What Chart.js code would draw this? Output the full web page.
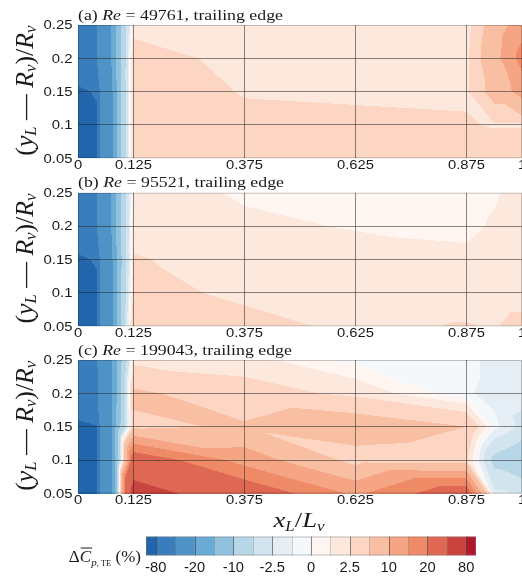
<!DOCTYPE html>
<html><head><meta charset="utf-8">
<script src="https://cdn.jsdelivr.net/npm/chart.js@4.4.0/dist/chart.umd.min.js"></script>
<style>
html,body{margin:0;padding:0;background:#fff;}
#wrap{position:relative;width:522px;height:579px;overflow:hidden;background:#fff;}
canvas{position:absolute;left:0;top:0;}
</style></head><body>
<div id="wrap">
<canvas id="pa" width="522" height="579"></canvas>
<canvas id="pb" width="522" height="579"></canvas>
<canvas id="pc" width="522" height="579"></canvas>
<canvas id="cb" width="522" height="579"></canvas>
</div>
<script>
// ---------- data ----------
const xNodes = [0, 0.0417, 0.05, 0.0833, 0.125, 0.375, 0.625, 0.875, 0.9375, 1];
const yNodes = [0.05, 0.1, 0.15, 0.2, 0.25];
const xTicks = [0, 0.125, 0.375, 0.625, 0.875, 1];
const yTicks = [0.05, 0.1, 0.15, 0.2, 0.25];
const levels = [-80, -40, -20, -15, -10, -5, -2.5, -1, 0, 1, 2.5, 5, 10, 15, 20, 40, 80];
const bandColors = ['#2166ac','#3a7dbd','#4f93c6','#6aabd4','#90c2de','#b7d6e8','#d2e5ef','#e6eef5','#f4f8fb',
                    '#fff6f1','#fde8dd','#fcd6c3','#f9bfa3','#f5a583','#ef8a66','#de6853','#c9443f','#b2182b'];
const colorbarLabels = ['-80','-20','-10','-2.5','0','2.5','10','20','80'];
const reynolds = ['49761', '95521', '199043'];
const panelLetters = ['(a)', '(b)', '(c)'];

// values[xIndex] = [y=0.05, 0.1, 0.15, 0.2, 0.25]
const valuesA = [
  [-90, -90, -84, -60, -60],
  [-85, -85, -78, -42, -42],
  [-35, -35, -35, -32, -30],
  [-17, -17, -17, -16, -16],
  [3.5, 3.5, 3.5, 3.2, 2.0],
  [3.0, 2.9, 2.4, 2.0, 1.8],
  [3.0, 2.8, 2.3, 1.9, 1.8],
  [3.0, 2.7, 2.2, 2.0, 1.5],
  [4.0, 2.3, 6.5, 8.0, 7.0],
  [4.5, 2.3, 12, 17, 13]
];
const valuesB = [
  [-90, -90, -84, -60, -60],
  [-85, -85, -78, -42, -42],
  [-35, -35, -35, -32, -30],
  [-17, -17, -17, -16, -16],
  [4.8, 3.0, 2.6, 2.0, 1.8],
  [3.0, 2.2, 2.0, 1.3, 0.8],
  [2.2, 1.8, 1.6, 0.9, 0.7],
  [2.6, 1.8, 1.2, 0.8, 0.7],
  [2.4, 1.8, 1.5, 1.1, 0.9],
  [3.0, 1.8, 1.5, 1.5, 1.4]
];
const valuesC = [
  [-90, -90, -85, -60, -55],
  [-85, -85, -81, -45, -42],
  [-35, -35, -35, -35, -33],
  [-16, -16, -16, -17, -17],
  [50, 25, 4.5, 5.5, 2.0],
  [25, 13, 5.3, 3.5, 1.5],
  [14, 3.5, 7, 2, -0.3],
  [25, 2.8, 5, -0.8, -0.5],
  [-2, -6, -0.5, -1.5, -1.5],
  [-2.5, -8, -3, -2, -1.5]
];

// ---------- helpers ----------
const SERIF = "'Liberation Serif','Times New Roman',serif";
const SANS = "'Liberation Sans',Arial,sans-serif";
const TXT = '#1a1a1a';

function hexToRgb(h){ return [parseInt(h.substr(1,2),16), parseInt(h.substr(3,2),16), parseInt(h.substr(5,2),16)]; }
const bandRgb = bandColors.map(hexToRgb);

function bandIndex(v){ let k = 0; while (k < levels.length && v >= levels[k]) k++; return k; }

function interp(vals, x, y){
  let i = 0; while (i < xNodes.length - 2 && x > xNodes[i+1]) i++;
  let j = 0; while (j < yNodes.length - 2 && y > yNodes[j+1]) j++;
  let u = (x - xNodes[i]) / (xNodes[i+1] - xNodes[i]);
  let v = (y - yNodes[j]) / (yNodes[j+1] - yNodes[j]);
  u = Math.min(1, Math.max(0, u)); v = Math.min(1, Math.max(0, v));
  const f00 = vals[i][j], f10 = vals[i+1][j], f01 = vals[i][j+1], f11 = vals[i+1][j+1];
  if (u + v <= 1) return f00 + (f10 - f00) * u + (f01 - f00) * v;
  return f11 + (f01 - f11) * (1 - u) + (f10 - f11) * (1 - v);
}

function measureRuns(ctx, runs){
  let total = 0;
  runs.forEach(r => { ctx.font = r.font; r.w = ctx.measureText(r.t).width; total += r.w; });
  return total;
}
function drawRuns(ctx, runs, x, y, sx, align){
  ctx.save();
  const total = measureRuns(ctx, runs);
  const start = align === 'right' ? x - total * sx : align === 'center' ? x - total * sx / 2 : x;
  ctx.translate(start, y); ctx.scale(sx, 1);
  ctx.textBaseline = 'alphabetic'; ctx.textAlign = 'left'; ctx.fillStyle = TXT; ctx.strokeStyle = TXT;
  let cx = 0;
  runs.forEach(r => {
    ctx.font = r.font; ctx.fillText(r.t, cx, r.dy || 0);
    if (r.over) { ctx.lineWidth = 1; ctx.beginPath(); ctx.moveTo(cx + 1, r.over); ctx.lineTo(cx + r.w + 1, r.over); ctx.stroke(); }
    cx += r.w;
  });
  ctx.restore();
  return total;
}
function drawText(ctx, t, x, y, font, sx, align){
  drawRuns(ctx, [{t: t, font: font}], x, y, sx, align);
}

// ---------- panel plugin ----------
function panelPlugin(vals, idx){
  return {
    id: 'contour' + idx,
    beforeDraw(chart){
      const ctx = chart.ctx, ca = chart.chartArea, xs = chart.scales.x, ys = chart.scales.y;
      const L = Math.round(ca.left), T = Math.round(ca.top);
      const W = Math.round(ca.right) - L, H = Math.round(ca.bottom) - T;
      const img = ctx.createImageData(W, H);
      for (let py = 0; py < H; py++){
        const yv = ys.getValueForPixel(T + py + 0.5);
        for (let px = 0; px < W; px++){
          const xv = xs.getValueForPixel(L + px + 0.5);
          const c = bandRgb[bandIndex(interp(vals, xv, yv))];
          const o = (py * W + px) * 4;
          img.data[o] = c[0]; img.data[o+1] = c[1]; img.data[o+2] = c[2]; img.data[o+3] = 255;
        }
      }
      ctx.putImageData(img, L, T);
    },
    afterDraw(chart){
      const ctx = chart.ctx, ca = chart.chartArea, xs = chart.scales.x, ys = chart.scales.y;
      ctx.save(); ctx.strokeStyle = 'rgba(0,0,0,0.22)'; ctx.lineWidth = 1;
      ctx.strokeRect(ca.left + 0.5, ca.top + 0.5, ca.right - ca.left - 1, ca.bottom - ca.top - 1);
      ctx.restore();
      const yf = '12px ' + SANS;
      ctx.font = yf; const ysx = 29 / ctx.measureText('0.25').width;
      yTicks.forEach(v => {
        const t = (v === 0.05 ? '0.05' : v === 0.1 ? '0.1' : v === 0.15 ? '0.15' : v === 0.2 ? '0.2' : '0.25');
        drawText(ctx, t, 72.5, ys.getPixelForValue(v) + 4.3, yf, ysx, 'right');
      });
      const xf = '12.5px ' + SANS;
      ctx.font = xf; const xsx = 37 / ctx.measureText('0.125').width;
      xTicks.forEach(v => {
        drawText(ctx, String(v), xs.getPixelForValue(v), ca.bottom + 10.5, xf, xsx, 'center');
      });
      const tf = '14px ' + SERIF, tfi = 'italic 14px ' + SERIF;
      const runsA = [{t: '(a) ', font: tf}, {t: 'Re', font: tfi}, {t: ' = 49761, trailing edge', font: tf}];
      const tsx = 205 / measureRuns(ctx, runsA);
      const runs = [{t: panelLetters[idx] + ' ', font: tf}, {t: 'Re', font: tfi}, {t: ' = ' + reynolds[idx] + ', trailing edge', font: tf}];
      drawRuns(ctx, runs, 78, ca.top - 5.5, tsx, 'left');
      const f = 'italic 26px ' + SERIF, fn = '26px ' + SERIF, fs = 'italic 17px ' + SERIF;
      const yr = [
        {t: '(', font: fn}, {t: 'y', font: f}, {t: 'L', font: fs, dy: 3}, {t: ' \u2014 ', font: fn},
        {t: 'R', font: f}, {t: 'v', font: fs, dy: 3}, {t: ')', font: fn}, {t: '/', font: fn},
        {t: 'R', font: f}, {t: 'v', font: fs, dy: 3}
      ];
      const tot = measureRuns(ctx, yr);
      ctx.save();
      ctx.translate(33, (ca.top + ca.bottom) / 2 - 1);
      ctx.rotate(-Math.PI / 2);
      drawRuns(ctx, yr, 0, 0, 130 / tot, 'center');
      ctx.restore();
      if (idx === 2){
        const xr = [{t: 'x', font: 'italic 22px ' + SERIF}, {t: 'L', font: 'italic 14px ' + SERIF, dy: 4},
                    {t: '/', font: '22px ' + SERIF}, {t: 'L', font: 'italic 22px ' + SERIF}, {t: 'v', font: 'italic 14px ' + SERIF, dy: 4}];
        const tw = measureRuns(ctx, xr);
        drawRuns(ctx, xr, 299, 527, 51 / tw, 'center');
      }
    }
  };
}

const panelAreas = [[25, 158.3], [192.7, 326.4], [360, 493.5]];
const panelVals = [valuesA, valuesB, valuesC];
['pa', 'pb', 'pc'].forEach((id, k) => {
  const [top, bottom] = panelAreas[k];
  new Chart(document.getElementById(id), {
    type: 'scatter',
    data: { datasets: [{ data: [], pointRadius: 0 }] },
    options: {
      responsive: false, animation: false, devicePixelRatio: 1,
      layout: { padding: { left: 78, right: 0, top: top, bottom: 579 - bottom } },
      plugins: { legend: { display: false }, tooltip: { enabled: false }, title: { display: false } },
      scales: {
        x: {
          type: 'linear', min: 0, max: 1,
          afterBuildTicks: s => { s.ticks = xTicks.filter(v => v > 0 && v < 1).map(v => ({ value: v })); },
          afterFit: s => { s.height = 0; },
          ticks: { display: false },
          grid: { color: 'rgba(40,40,40,0.55)', lineWidth: 1, drawTicks: false },
          border: { display: false }
        },
        y: {
          type: 'linear', min: 0.05, max: 0.25,
          afterBuildTicks: s => { s.ticks = yTicks.filter(v => v > 0.05 && v < 0.25).map(v => ({ value: v })); },
          afterFit: s => { s.width = 0; },
          ticks: { display: false },
          grid: { color: 'rgba(40,40,40,0.55)', lineWidth: 1, drawTicks: false },
          border: { display: false }
        }
      }
    },
    plugins: [panelPlugin(panelVals[k], k)]
  });
});

// ---------- colour bar ----------
const segWidths = bandColors.map((c, i) => (i === 0 || i === bandColors.length - 1) ? 0.5 : 1);
new Chart(document.getElementById('cb'), {
  type: 'bar',
  data: {
    labels: [''],
    datasets: bandColors.map((c, i) => ({ data: [segWidths[i]], backgroundColor: c, borderWidth: 0,
                                          categoryPercentage: 1, barPercentage: 1 }))
  },
  options: {
    indexAxis: 'y', responsive: false, animation: false, devicePixelRatio: 1,
    layout: { padding: { left: 146, right: 522 - 476, top: 536.5, bottom: 579 - 555.5 } },
    plugins: { legend: { display: false }, tooltip: { enabled: false } },
    scales: {
      x: { stacked: true, min: 0, max: 17, display: false },
      y: { stacked: true, display: false }
    }
  },
  plugins: [{
    id: 'cbdecor',
    afterDraw(chart){
      const ctx = chart.ctx, ca = chart.chartArea, xs = chart.scales.x;
      ctx.save();
      for (let b = 0; b < levels.length; b++){
        const px = Math.round(xs.getPixelForValue(0.5 + b)) + 0.5;
        ctx.strokeStyle = (b % 2 === 0) ? 'rgba(60,60,60,0.6)' : 'rgba(120,120,120,0.35)';
        ctx.lineWidth = 1;
        ctx.beginPath(); ctx.moveTo(px, ca.top); ctx.lineTo(px, ca.bottom); ctx.stroke();
      }
      ctx.strokeStyle = 'rgba(120,120,120,0.45)';
      ctx.strokeRect(ca.left + 0.5, ca.top + 0.5, ca.right - ca.left - 1, ca.bottom - ca.top - 1);
      ctx.restore();
      const lf = '14px ' + SANS;
      colorbarLabels.forEach((t, i) => {
        drawText(ctx, t, xs.getPixelForValue(0.5 + 2 * i), 572, lf, 1.05, 'center');
      });
      const runs = [
        {t: '\u0394', font: '17px ' + SERIF},
        {t: 'C', font: 'italic 17px ' + SERIF, over: -13.5},
        {t: 'p', font: 'italic 11px ' + SERIF, dy: 4},
        {t: ', TE', font: '8.5px ' + SERIF, dy: 4},
        {t: ' (%)', font: '17px ' + SERIF}
      ];
      drawRuns(ctx, runs, 141, 561.5, 1.0, 'right');
    }
  }]
});
</script>
</body></html>
